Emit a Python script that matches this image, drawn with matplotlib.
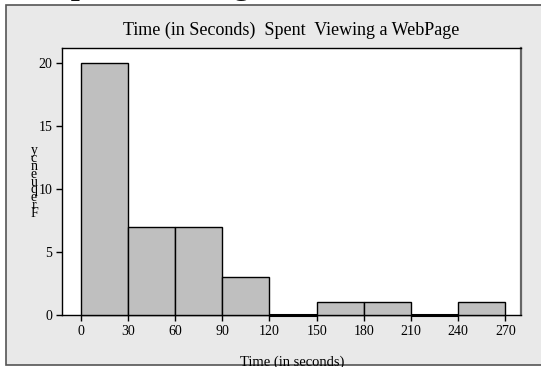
import matplotlib
matplotlib.use('Agg')
import matplotlib.pyplot as plt
from matplotlib.patches import Rectangle

# histogram bins (seconds) and counts
bin_edges = [0, 30, 60, 90, 120, 150, 180, 210, 240, 270]
counts = [20, 7, 7, 3, 0, 1, 1, 0, 1]
x_ticks = [0, 30, 60, 90, 120, 150, 180, 210, 240, 270]
y_ticks = [0, 5, 10, 15, 20]

plt.rcParams['font.family'] = ['Liberation Serif', 'DejaVu Serif']

fig = plt.figure(figsize=(5.41, 3.67), dpi=100, facecolor='white')

# gray panel behind the chart
panel = Rectangle((6 / 541, 2 / 367), 1.2, 360 / 367, transform=fig.transFigure,
                  facecolor='#e9e9e9', edgecolor='#555555', linewidth=1.2, zorder=-5)
fig.patches.append(panel)

# cut-off heading at the very top (only descenders show)
fig.text(0.098, 1.0 + 6 / 367, 'Spent Viewing a', fontsize=23, fontweight='bold',
         ha='left', va='baseline', color='#111111')

ax = fig.add_axes([62 / 541, 1 - 315 / 367, (521 - 62) / 541, (315 - 48) / 367])
ax.set_facecolor('white')

lefts = bin_edges[:-1]
widths = [b - a for a, b in zip(bin_edges[:-1], bin_edges[1:])]
lws = [2.2 if c == 0 else 1.0 for c in counts]
ax.bar(lefts, counts, width=widths, align='edge', color='#bfbfbf',
       edgecolor='black', linewidth=lws, zorder=3, clip_on=False)

ax.set_xlim(-12, 280)
ax.set_ylim(0, 21.2)
ax.set_xticks(x_ticks)
ax.set_yticks(y_ticks)
ax.tick_params(direction='out', length=4, width=1, labelsize=10, colors='black', pad=3)

for s in ['left', 'top', 'bottom']:
    ax.spines[s].set_color('black')
    ax.spines[s].set_linewidth(1.0)
ax.spines['right'].set_color('#666666')
ax.spines['right'].set_linewidth(1.6)

fig.text(291 / 541, 1 - 30 / 367, 'Time (in Seconds)  Spent  Viewing a WebPage',
         ha='center', va='center', fontsize=13)

fig.text(292 / 541, 1 - 362 / 367, 'Time (in seconds)', ha='center', va='center',
         fontsize=10.5)

fig.text(34 / 541, 1 - 182 / 367, '\n'.join('ycneuqerF'), ha='center', va='center',
         fontsize=10, linespacing=0.48)

fig.savefig('out.png', dpi=100, facecolor='white')
